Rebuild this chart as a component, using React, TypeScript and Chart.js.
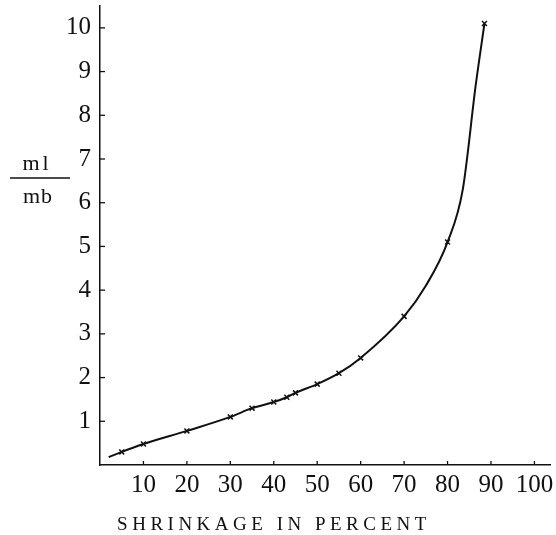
import React, { useEffect, useRef } from "react";
import { Chart, registerables } from "chart.js";

Chart.register(...registerables);

// Smooth curve through the measured points (percent shrinkage vs. ml/mb)
const curveX = [2, 5, 10, 20, 30, 35, 40, 43, 45, 50, 55, 60, 70, 75, 80, 83.5, 86.5, 88.5];
const curveY = [0.18, 0.3, 0.48, 0.78, 1.1, 1.3, 1.44, 1.55, 1.65, 1.85, 2.1, 2.45, 3.4, 4.1, 5.1, 6.3, 8.7, 10.1];

// Plotted observation markers (x)
const markX = [5, 10, 20, 30, 35, 40, 43, 45, 50, 55, 60, 70, 80, 88.5];
const markY = [0.3, 0.48, 0.78, 1.1, 1.3, 1.44, 1.55, 1.65, 1.85, 2.1, 2.45, 3.4, 5.1, 10.1];

const xTicks = [10, 20, 30, 40, 50, 60, 70, 80, 90, 100];
const yTicks = [1, 2, 3, 4, 5, 6, 7, 8, 9, 10];

const X_TITLE = "SHRINKAGE IN PERCENT";
const Y_TITLE_TOP = "ml";
const Y_TITLE_BOTTOM = "mb";

const SERIF = "'Liberation Serif', 'DejaVu Serif', serif";

const decorPlugin = {
  id: "decor",
  afterDraw(chart: any) {
    const ctx = chart.ctx as CanvasRenderingContext2D;
    const { left, bottom } = chart.chartArea;
    const xs = chart.scales.x;
    const ys = chart.scales.y;
    ctx.save();
    ctx.strokeStyle = "#111";
    ctx.lineWidth = 1.3;
    // inward tick marks
    yTicks.forEach((v) => {
      const py = ys.getPixelForValue(v);
      ctx.beginPath();
      ctx.moveTo(left, py);
      ctx.lineTo(left + 5, py);
      ctx.stroke();
    });
    xTicks.forEach((v) => {
      const px = xs.getPixelForValue(v);
      ctx.beginPath();
      ctx.moveTo(px, bottom);
      ctx.lineTo(px, bottom - 4);
      ctx.stroke();
    });
    ctx.fillStyle = "#111";
    // x title
    ctx.font = `19px ${SERIF}`;
    ctx.textAlign = "center";
    ctx.textBaseline = "alphabetic";
    (ctx as any).letterSpacing = "4.5px";
    ctx.fillText(X_TITLE, 274, 530);
    // y title as fraction
    ctx.font = `22px ${SERIF}`;
    (ctx as any).letterSpacing = "3px";
    ctx.fillText(Y_TITLE_TOP, 37, 170);
    (ctx as any).letterSpacing = "1px";
    ctx.fillText(Y_TITLE_BOTTOM, 38, 203);
    (ctx as any).letterSpacing = "0px";
    ctx.lineWidth = 1.4;
    ctx.beginPath();
    ctx.moveTo(10, 178);
    ctx.lineTo(70, 178);
    ctx.stroke();
    ctx.restore();
  },
};

export default function App() {
  const ref = useRef<HTMLCanvasElement>(null);
  useEffect(() => {
    if (!ref.current) return;
    const chart = new Chart(ref.current, {
      type: "scatter",
      data: {
        datasets: [
          {
            type: "line",
            data: curveX.map((x, i) => ({ x, y: curveY[i] })),
            borderColor: "#111",
            borderWidth: 2,
            pointRadius: 0,
            cubicInterpolationMode: "monotone",
            fill: false,
          } as any,
          {
            data: markX.map((x, i) => ({ x, y: markY[i] })),
            pointStyle: "crossRot",
            pointRadius: 3.5,
            borderColor: "#111",
            borderWidth: 1.5,
            backgroundColor: "#111",
          },
        ],
      },
      options: {
        responsive: false,
        animation: false,
        layout: { padding: { top: 6, right: 3, left: 0, bottom: 0 } },
        plugins: { legend: { display: false }, tooltip: { enabled: false } },
        scales: {
          x: {
            type: "linear",
            min: 0,
            max: 103.7,
            afterBuildTicks: (s: any) => {
              s.ticks = xTicks.map((v) => ({ value: v }));
            },
            afterFit: (s: any) => {
              s.height = 70;
              s.paddingLeft = 0;
              s.paddingRight = 0;
              s.paddingTop = 0;
              s.paddingBottom = 0;
            },
            grid: { display: true, drawOnChartArea: false, drawTicks: false },
            border: { display: true, color: "#111", width: 1.5 },
            ticks: {
              color: "#111",
              padding: 5,
              maxRotation: 0,
              autoSkip: false,
              font: { family: SERIF, size: 25 },
            },
          },
          y: {
            type: "linear",
            min: 0,
            max: 10.5,
            afterBuildTicks: (s: any) => {
              s.ticks = yTicks.map((v) => ({ value: v }));
            },
            afterFit: (s: any) => {
              s.width = 100;
              s.paddingLeft = 0;
              s.paddingRight = 0;
              s.paddingTop = 0;
              s.paddingBottom = 0;
            },
            grid: { display: true, drawOnChartArea: false, drawTicks: false },
            border: { display: true, color: "#111", width: 1.5 },
            ticks: {
              color: "#111",
              padding: 9,
              autoSkip: false,
              font: { family: SERIF, size: 25 },
            },
          },
        },
      },
      plugins: [decorPlugin],
    });
    return () => chart.destroy();
  }, []);
  return (
    <div style={{ position: "absolute", left: 0, top: 0, width: 556, height: 535, background: "#fff" }}>
      <canvas ref={ref} width={556} height={535} style={{ display: "block" }} />
    </div>
  );
}
